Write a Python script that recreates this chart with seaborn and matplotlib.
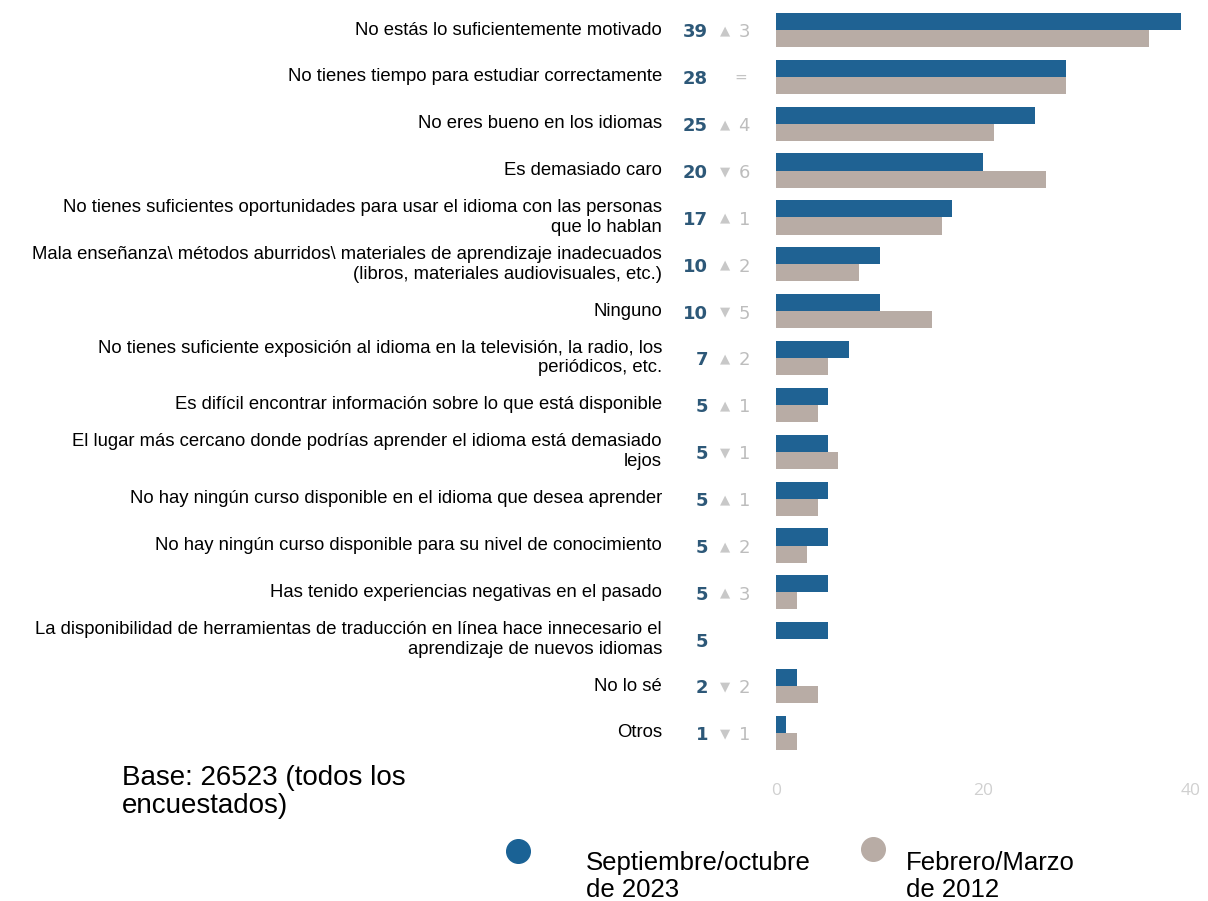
import numpy as np
import pandas as pd
import matplotlib
matplotlib.use("Agg")
import matplotlib.pyplot as plt
import seaborn as sns
from matplotlib.lines import Line2D
import matplotlib.transforms as mtransforms

categories = [
    "No estás lo suficientemente motivado",
    "No tienes tiempo para estudiar correctamente",
    "No eres bueno en los idiomas",
    "Es demasiado caro",
    "No tienes suficientes oportunidades para usar el idioma con las personas\nque lo hablan",
    "Mala enseñanza\\ métodos aburridos\\ materiales de aprendizaje inadecuados\n(libros, materiales audiovisuales, etc.)",
    "Ninguno",
    "No tienes suficiente exposición al idioma en la televisión, la radio, los\nperiódicos, etc.",
    "Es difícil encontrar información sobre lo que está disponible",
    "El lugar más cercano donde podrías aprender el idioma está demasiado\nlejos",
    "No hay ningún curso disponible en el idioma que desea aprender",
    "No hay ningún curso disponible para su nivel de conocimiento",
    "Has tenido experiencias negativas en el pasado",
    "La disponibilidad de herramientas de traducción en línea hace innecesario el\naprendizaje de nuevos idiomas",
    "No lo sé",
    "Otros",
]
values_2023 = [39, 28, 25, 20, 17, 10, 10, 7, 5, 5, 5, 5, 5, 5, 2, 1]
values_2012 = [36, 28, 21, 26, 16, 8, 15, 5, 4, 6, 4, 3, 2, np.nan, 4, 2]
series_names = ["Septiembre/octubre\nde 2023", "Febrero/Marzo\nde 2012"]
x_ticks = [0, 20, 40]
base_text = "Base: 26523 (todos los\nencuestados)"

BLUE = "#1f6293"
GRAY = "#b8aca5"

df = pd.DataFrame({
    "cat": categories * 2,
    "serie": [series_names[0]] * len(categories) + [series_names[1]] * len(categories),
    "valor": list(values_2023) + list(values_2012),
})

sns.set_theme(style="white")
plt.rcParams["font.family"] = ["Liberation Sans", "DejaVu Sans"]

fig = plt.figure(figsize=(12.08, 9.01), dpi=100)
ax = fig.add_axes([0.6424, 0.1605, 0.3435, 0.8322])

sns.barplot(data=df, y="cat", x="valor", hue="serie", orient="h",
            palette=[BLUE, GRAY], width=0.73, errorbar=None,
            saturation=1, legend=False, linewidth=0, ax=ax)

ax.set_xlim(0, 40)
ax.set_ylim(len(categories) - 0.5, -0.5)
ax.set_xticks(x_ticks)
ax.set_xticklabels([str(t) for t in x_ticks], color="#d0d0d0", fontsize=12.5,
                   family=["Open Sans", "DejaVu Sans"])
ax.tick_params(axis="x", length=0, pad=19)
ax.set_yticks([])
ax.set_xlabel("")
ax.set_ylabel("")
for s in ax.spines.values():
    s.set_visible(False)
ax.grid(False)

trans = mtransforms.blended_transform_factory(ax.transAxes, ax.transData)
x_num = (708 - 776) / 415
x_tri = (725 - 776) / 415
x_chg = (750 - 776) / 415
x_eq = (741 - 776) / 415
for i, cat in enumerate(categories):
    ax.text(-0.275, i, cat, transform=trans, ha="right", va="center",
            multialignment="right", fontsize=13.3, color="black", linespacing=1.2)
    ax.text(x_num, i + 0.05, f"{values_2023[i]:g}", transform=trans, ha="right", va="center",
            fontsize=13, fontweight="bold", color="#2d5878", family="DejaVu Sans")
    v12 = values_2012[i]
    if not np.isnan(v12):
        d = values_2023[i] - v12
        if d == 0:
            ax.text(x_eq, i, "=", transform=trans, ha="center", va="center",
                    fontsize=11, color="#c4c4c4", family="DejaVu Sans")
        else:
            tri = "▲" if d > 0 else "▼"
            ax.text(x_tri, i + 0.02, tri, transform=trans, ha="center", va="center",
                    fontsize=9.5, color="#c8c8c8", family="DejaVu Sans")
            ax.text(x_chg, i + 0.05, f"{abs(d):g}", transform=trans, ha="right", va="center",
                    fontsize=13, color="#bdbdbd", family="DejaVu Sans")

fig.text(122 / 1208, 1 - 792 / 901, base_text, ha="left", va="center",
         fontsize=20, color="black", linespacing=1.08)

fig.add_artist(Line2D([518 / 1208], [1 - 851 / 901], marker="o", markersize=17,
                      color="#1a6295", linestyle="none", transform=fig.transFigure))
fig.text(586 / 1208, 1 - 897 / 901, series_names[0], ha="left", va="baseline",
         fontsize=18.5, color="black", linespacing=1.15)
fig.add_artist(Line2D([873 / 1208], [1 - 849 / 901], marker="o", markersize=17,
                      color=GRAY, linestyle="none", transform=fig.transFigure))
fig.text(906 / 1208, 1 - 897 / 901, series_names[1], ha="left", va="baseline",
         fontsize=18.5, color="black", linespacing=1.15)

fig.savefig("out.png", dpi=100, facecolor="white")
